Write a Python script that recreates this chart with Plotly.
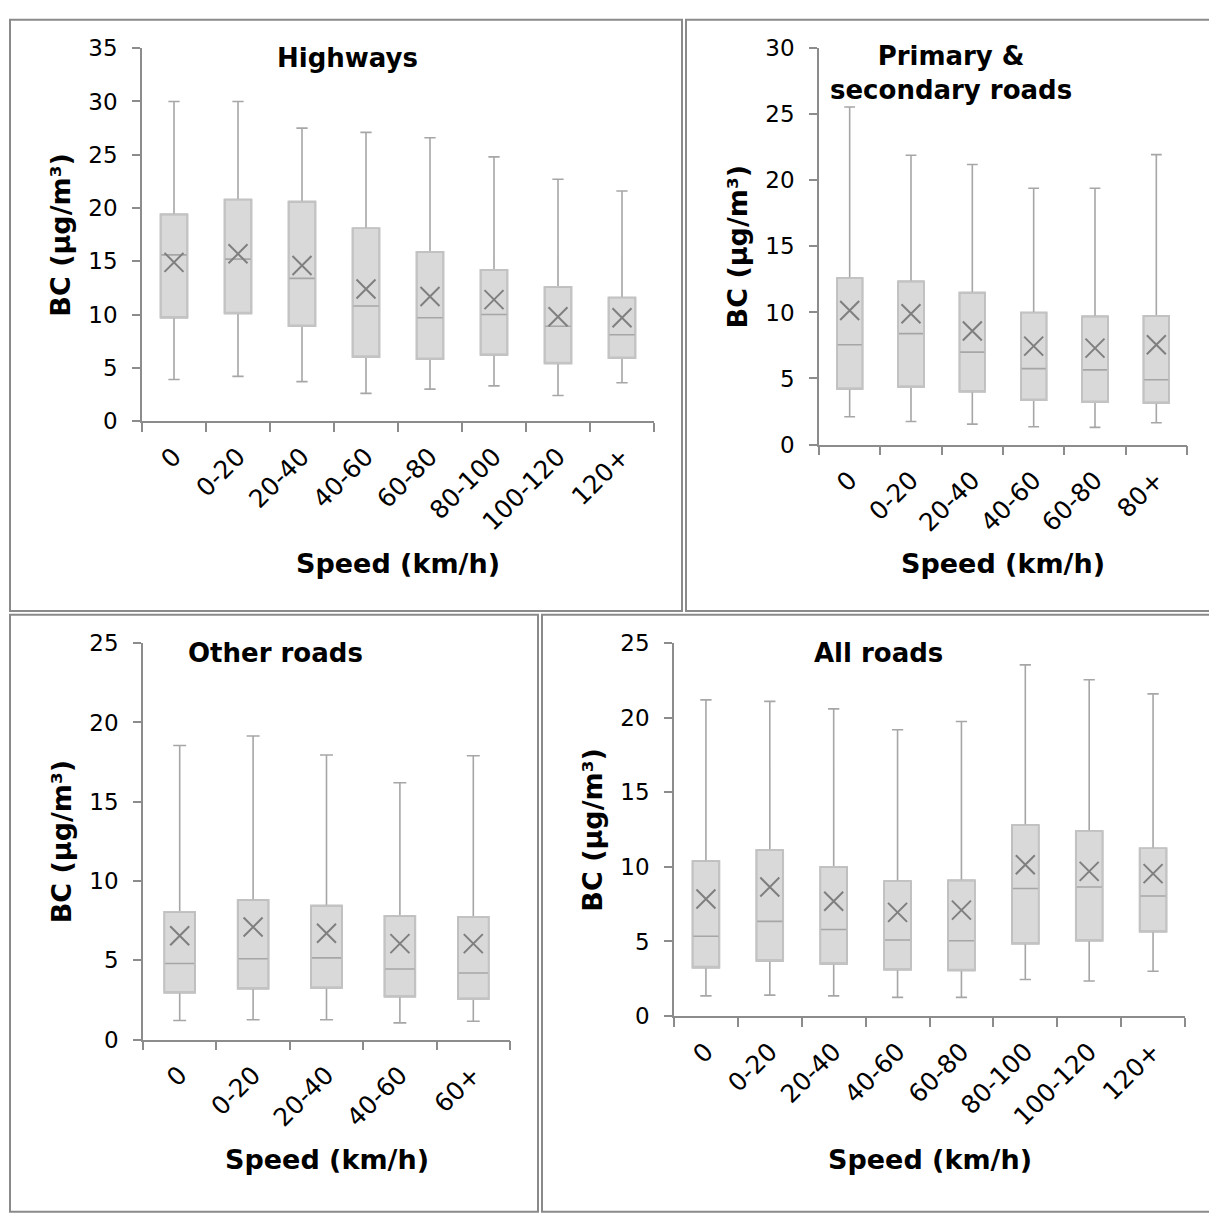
import plotly.graph_objects as go

W, H = 1209, 1214

# ---- Highways ----
hw_cats = ["0", "0-20", "20-40", "40-60", "60-80", "80-100", "100-120", "120+"]
hw_lower = [3.9, 4.2, 3.7, 2.6, 3.0, 3.3, 2.4, 3.6]
hw_q1 = [9.7, 10.1, 8.9, 6.0, 5.8, 6.2, 5.4, 5.9]
hw_median = [15.6, 15.2, 13.4, 10.8, 9.7, 10.0, 8.9, 8.1]
hw_q3 = [19.4, 20.8, 20.6, 18.1, 15.9, 14.2, 12.6, 11.6]
hw_upper = [30.0, 30.0, 27.5, 27.1, 26.6, 24.8, 22.7, 21.6]
hw_mean = [14.9, 15.7, 14.6, 12.4, 11.7, 11.4, 9.8, 9.7]

# ---- Primary & secondary roads ----
ps_cats = ["0", "0-20", "20-40", "40-60", "60-80", "80+"]
ps_lower = [2.1, 1.75, 1.55, 1.35, 1.3, 1.65]
ps_q1 = [4.2, 4.35, 4.0, 3.35, 3.2, 3.15]
ps_median = [7.55, 8.4, 7.0, 5.75, 5.65, 4.9]
ps_q3 = [12.6, 12.35, 11.5, 10.0, 9.7, 9.75]
ps_upper = [25.55, 21.9, 21.2, 19.4, 19.4, 21.95]
ps_mean = [10.15, 9.9, 8.6, 7.45, 7.3, 7.55]

# ---- Other roads ----
ot_cats = ["0", "0-20", "20-40", "40-60", "60+"]
ot_lower = [1.2, 1.25, 1.25, 1.05, 1.15]
ot_q1 = [2.95, 3.2, 3.25, 2.7, 2.55]
ot_median = [4.8, 5.1, 5.15, 4.45, 4.2]
ot_q3 = [8.05, 8.8, 8.45, 7.8, 7.75]
ot_upper = [18.55, 19.15, 17.95, 16.2, 17.9]
ot_mean = [6.55, 7.1, 6.7, 6.05, 6.05]

# ---- All roads ----
al_cats = ["0", "0-20", "20-40", "40-60", "60-80", "80-100", "100-120", "120+"]
al_lower = [1.35, 1.4, 1.35, 1.25, 1.25, 2.45, 2.35, 3.0]
al_q1 = [3.25, 3.7, 3.5, 3.1, 3.05, 4.85, 5.05, 5.65]
al_median = [5.35, 6.35, 5.8, 5.1, 5.05, 8.55, 8.65, 8.05]
al_q3 = [10.4, 11.15, 10.0, 9.05, 9.1, 12.8, 12.4, 11.25]
al_upper = [21.2, 21.1, 20.6, 19.2, 19.75, 23.55, 22.55, 21.6]
al_mean = [7.85, 8.65, 7.7, 6.95, 7.1, 10.15, 9.7, 9.55]

x_title = "Speed (km/h)"
y_title = "BC (µg/m³)"

FONT = "DejaVu Sans"
BOX_FILL = "#d9d9d9"
WHISKER = "#a6a6a6"
BOX_EDGE = "#c3c3c3"
MEAN_COLOR = "#7f7f7f"
AXIS_COLOR = "#8c8c8c"
BORDER = "#8a8a8a"


def fx(p):
    return p / W


def fy(p):
    return 1 - p / H


panels = [
    dict(cats=hw_cats, lower=hw_lower, q1=hw_q1, median=hw_median, q3=hw_q3,
         upper=hw_upper, mean=hw_mean, ymax=35, title="Highways",
         xdom=(142, 654), ydom=(36, 417), tpos=(347, 46),
         ytx=61, xty=563, frame=(10, 682, 7, 611)),
    dict(cats=ps_cats, lower=ps_lower, q1=ps_q1, median=ps_median, q3=ps_q3,
         upper=ps_upper, mean=ps_mean, ymax=30,
         title="Primary &<br>secondary roads",
         xdom=(819, 1187), ydom=(36, 441), tpos=(951, 61),
         ytx=737, xty=563, frame=(686, 1220, 7, 611)),
    dict(cats=ot_cats, lower=ot_lower, q1=ot_q1, median=ot_median, q3=ot_q3,
         upper=ot_upper, mean=ot_mean, ymax=25, title="Other roads",
         xdom=(143, 510), ydom=(644, 1049), tpos=(275, 654),
         ytx=61, xty=1172, frame=(10, 538, 615, 1225)),
    dict(cats=al_cats, lower=al_lower, q1=al_q1, median=al_median, q3=al_q3,
         upper=al_upper, mean=al_mean, ymax=25, title="All roads",
         xdom=(674, 1185), ydom=(644, 1025), tpos=(878, 654),
         ytx=593, xty=1172, frame=(542, 1220, 615, 1225)),
]

fig = go.Figure()
annotations = []
shapes = []
layout_axes = {}

for i, p in enumerate(panels, start=1):
    sfx = "" if i == 1 else str(i)
    xa, ya = "x" + sfx, "y" + sfx

    # box with whiskers and median
    fig.add_trace(go.Box(
        x=p["cats"], q1=p["q1"], median=p["median"], q3=p["q3"],
        lowerfence=p["lower"], upperfence=p["upper"],
        boxpoints=False, width=0.42, whiskerwidth=0.42,
        fillcolor=BOX_FILL, line=dict(color=WHISKER, width=1.6),
        xaxis=xa, yaxis=ya, showlegend=False, hoverinfo="skip",
    ))
    # lighter outline of the interquartile box
    fig.add_trace(go.Box(
        x=p["cats"], q1=p["q1"], median=p["q1"], q3=p["q3"],
        lowerfence=p["q1"], upperfence=p["q3"],
        boxpoints=False, width=0.42, whiskerwidth=0.0,
        fillcolor="rgba(0,0,0,0)", line=dict(color=BOX_EDGE, width=1.6),
        xaxis=xa, yaxis=ya, showlegend=False, hoverinfo="skip",
    ))
    # mean markers
    fig.add_trace(go.Scatter(
        x=p["cats"], y=p["mean"], mode="markers",
        marker=dict(symbol="x-thin", size=19,
                    line=dict(color=MEAN_COLOR, width=2), color=MEAN_COLOR),
        xaxis=xa, yaxis=ya, showlegend=False, hoverinfo="skip",
    ))

    n = len(p["cats"])
    layout_axes["xaxis" + sfx] = dict(
        type="category", range=[-0.5, n - 0.5],
        domain=[fx(p["xdom"][0]), fx(p["xdom"][1])], anchor=ya,
        showline=True, linecolor=AXIS_COLOR, linewidth=1.5,
        ticks="outside", tickson="boundaries", ticklen=9,
        tickcolor=AXIS_COLOR, tickwidth=1.5, tickangle=-45,
        tickfont=dict(family=FONT, size=25, color="black"),
        ticklabelstandoff=9,
        showgrid=False, zeroline=False, fixedrange=True,
    )
    layout_axes["yaxis" + sfx] = dict(
        range=[0, p["ymax"]], tick0=0, dtick=5,
        domain=[fy(p["ydom"][1]), fy(p["ydom"][0])], anchor=xa,
        showline=True, linecolor=AXIS_COLOR, linewidth=1.5,
        ticks="outside", ticklen=8, tickcolor=AXIS_COLOR, tickwidth=1.5,
        tickfont=dict(family=FONT, size=23, color="black"),
        ticklabelstandoff=10,
        showgrid=False, zeroline=False, fixedrange=True,
    )

    bold = dict(family=FONT, size=26, color="black")
    bold_axis = dict(family=FONT, size=27, color="black")
    annotations.append(dict(
        text="<b>%s</b>" % p["title"].replace("<br>", "</b><br><b>"),
        x=fx(p["tpos"][0]), y=fy(p["tpos"][1]),
        xref="paper", yref="paper", xanchor="center", yanchor="middle",
        showarrow=False, font=bold, align="center"))
    annotations.append(dict(
        text="<b>%s</b>" % x_title,
        x=fx((p["xdom"][0] + p["xdom"][1]) / 2), y=fy(p["xty"]),
        xref="paper", yref="paper", xanchor="center", yanchor="middle",
        showarrow=False, font=bold_axis))
    annotations.append(dict(
        text="<b>%s</b>" % y_title, textangle=-90,
        x=fx(p["ytx"]), y=fy((p["ydom"][0] + p["ydom"][1]) / 2),
        xref="paper", yref="paper", xanchor="center", yanchor="middle",
        showarrow=False, font=bold_axis))

    x0, x1, y0, y1 = p["frame"]
    shapes.append(dict(type="rect", xref="paper", yref="paper",
                       x0=fx(x0), x1=fx(x1), y0=fy(y1), y1=fy(y0),
                       line=dict(color=BORDER, width=2), layer="below"))

fig.update_layout(
    width=W, height=H,
    margin=dict(l=0, r=0, t=0, b=0),
    paper_bgcolor="white", plot_bgcolor="rgba(0,0,0,0)",
    annotations=annotations, shapes=shapes,
    font=dict(family=FONT),
    **layout_axes,
)

fig.write_html(
    "out.html",
    post_script="document.body.style.margin='0';document.body.style.overflow='hidden';",
)
